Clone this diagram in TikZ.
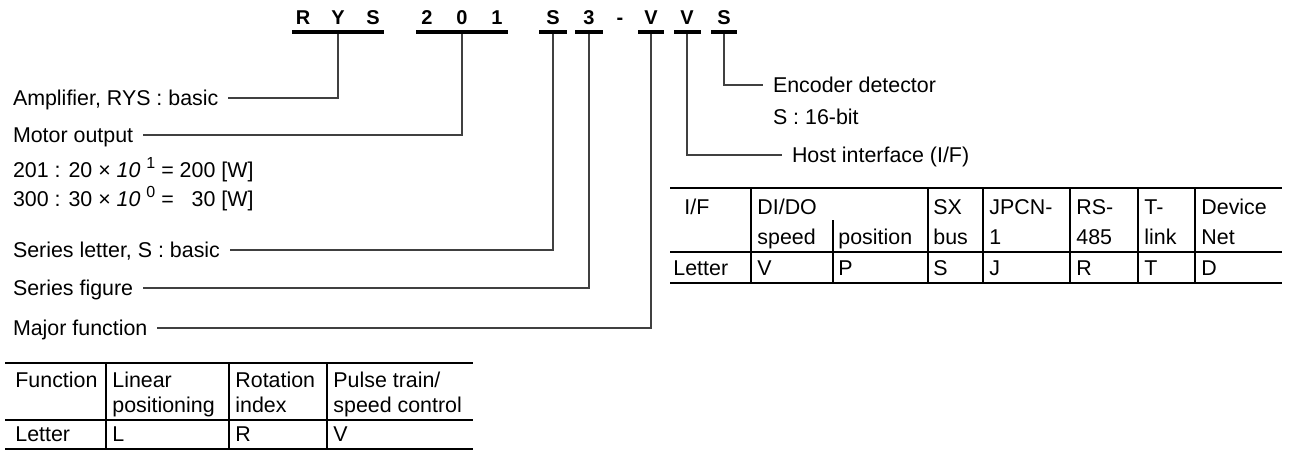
\documentclass[tikz,border=0pt]{standalone}
\usepackage{fontspec}
\setmainfont{Liberation Sans}
\usepackage{tikz}
\usetikzlibrary{positioning}
\tikzset{ code_char/.style = {font=\fontsize{10}{12}\selectfont\bfseries, inner sep=0pt, text height=7.2pt, text depth=0pt} }
\tikzset{ code_bar/.style = {fill=black, inner sep=0pt, minimum height=1.7pt} }
\tikzset{ lead/.style = {draw=black!75, line width=0.55pt} }
\tikzset{ label_txt/.style = {anchor=west, inner sep=0pt, outer xsep=5pt, text height=7.7pt, text depth=0pt, font=\fontsize{10.7}{13}\selectfont} }
\tikzset{ cell/.style = {anchor=west, inner sep=0pt, text height=7.7pt, text depth=0pt, font=\fontsize{10.7}{13}\selectfont} }
\tikzset{ hrule/.style = {line width=1pt}, vrule/.style = {line width=0.8pt} }
\newcommand{\pw}[1]{\ \raisebox{0.45em}{\footnotesize #1}}

\begin{document}
\begin{tikzpicture}[x=0.5pt, y=-0.5pt]
        \useasboundingbox (0,0) rectangle (1290,457);
        % model code
        \node[code_char] (cR) at (303,17) {R};
        \node[code_char] (cY) at (338,17) {Y};
        \node[code_char] (cS) at (373,17) {S};
        \node[code_char] (c2) at (427,17) {2};
        \node[code_char] (c0) at (462,17) {0};
        \node[code_char] (c1) at (497,17) {1};
        \node[code_char] (sLet) at (553,17) {S};
        \node[code_char] (sFig) at (589,17) {3};
        \node[code_char] (dash) at (620,17) {-};
        \node[code_char] (fLet) at (651,17) {V};
        \node[code_char] (hLet) at (687,17) {V};
        \node[code_char] (eLet) at (724,17) {S};
        \node[code_bar, minimum width=46pt] (bRYS) at (338,32) {};
        \node[code_bar, minimum width=46pt] (bOut) at (462,32) {};
        \node[code_bar, minimum width=14pt] (bSLet) at (553,32) {};
        \node[code_bar, minimum width=14pt] (bSFig) at (589,32) {};
        \node[code_bar, minimum width=13pt] (bFunc) at (651,32) {};
        \node[code_bar, minimum width=13.5pt] (bHost) at (687,32) {};
        \node[code_bar, minimum width=13pt] (bEnc) at (724,32) {};
        % labels
        \node[label_txt] (amp) at (3,98) {Amplifier, RYS : basic};
        \node[label_txt] (motor) at (3,135) {Motor output};
        \node[label_txt] (w201) at (3,170) {201 : 20 × \textit{10}\pw{1} = 200 [W]};
        \node[label_txt] (w300) at (3,199) {300 : 30 × \textit{10}\pw{0} = \phantom{2}30 [W]};
        \node[label_txt] (serLet) at (3,250) {Series letter, S : basic};
        \node[label_txt] (serFig) at (3,288) {Series figure};
        \node[label_txt] (major) at (3,328) {Major function};
        \node[label_txt] (enc) at (763,85) {Encoder detector};
        \node[label_txt] (encBit) at (763,117) {S : 16-bit};
        \node[label_txt] (host) at (782,155) {Host interface (I/F)};
        % leaders
        \draw[lead] (bRYS.south) |- (amp);
        \draw[lead] (bOut.south) |- (motor);
        \draw[lead] (bSLet.south) |- (serLet);
        \draw[lead] (bSFig.south) |- (serFig);
        \draw[lead] (bFunc.south) |- (major);
        \draw[lead] (bHost.south) |- (host);
        \draw[lead] (bEnc.south) |- (enc);
        % I/F table
        \draw[hrule] (670,188) -- (1282,188);
        \draw[hrule] (670,252) -- (1282,252);
        \draw[hrule] (670,283) -- (1282,283);
        \foreach \x in {751,928,983,1070,1138,1195}
            \draw[vrule] (\x,188) -- (\x,283);
        \draw[vrule] (833,220) -- (833,283);
        \node[cell] (ifHead) at (684,207) {I/F};
        \node[cell] (ifDio) at (757,207) {DI/DO};
        \node[cell] (ifSpd) at (757,237) {speed};
        \node[cell] (ifPos) at (838,237) {position};
        \node[cell] (ifSx) at (933,207) {SX};
        \node[cell] (ifSxB) at (933,237) {bus};
        \node[cell] (ifJp) at (989,207) {JPCN-};
        \node[cell] (ifJpB) at (989,237) {1};
        \node[cell] (ifRs) at (1076,207) {RS-};
        \node[cell] (ifRsB) at (1076,237) {485};
        \node[cell] (ifTl) at (1144,207) {T-};
        \node[cell] (ifTlB) at (1144,237) {link};
        \node[cell] (ifDn) at (1201,207) {Device};
        \node[cell] (ifDnB) at (1201,237) {Net};
        \node[cell] (ifLet) at (673,268) {Letter};
        \node[cell] (ifV) at (757,268) {V};
        \node[cell] (ifP) at (838,268) {P};
        \node[cell] (ifS) at (933,268) {S};
        \node[cell] (ifJ) at (989,268) {J};
        \node[cell] (ifR) at (1076,268) {R};
        \node[cell] (ifT) at (1144,268) {T};
        \node[cell] (ifD) at (1201,268) {D};
        % function table
        \draw[hrule] (5,363) -- (473,363);
        \draw[hrule] (5,420) -- (473,420);
        \draw[hrule] (5,449) -- (473,449);
        \foreach \x in {106,229,327}
            \draw[vrule] (\x,363) -- (\x,449);
        \node[cell] (fnHead) at (15,380) {Function};
        \node[cell] (fnLin) at (112,380) {Linear};
        \node[cell] (fnLinB) at (112,405) {positioning};
        \node[cell] (fnRot) at (235,380) {Rotation};
        \node[cell] (fnRotB) at (235,405) {index};
        \node[cell] (fnPul) at (333,380) {Pulse train/};
        \node[cell] (fnPulB) at (333,405) {speed control};
        \node[cell] (fnLet) at (15,434) {Letter};
        \node[cell] (fnL) at (112,434) {L};
        \node[cell] (fnR) at (235,434) {R};
        \node[cell] (fnV) at (333,434) {V};
\end{tikzpicture}
\end{document}
